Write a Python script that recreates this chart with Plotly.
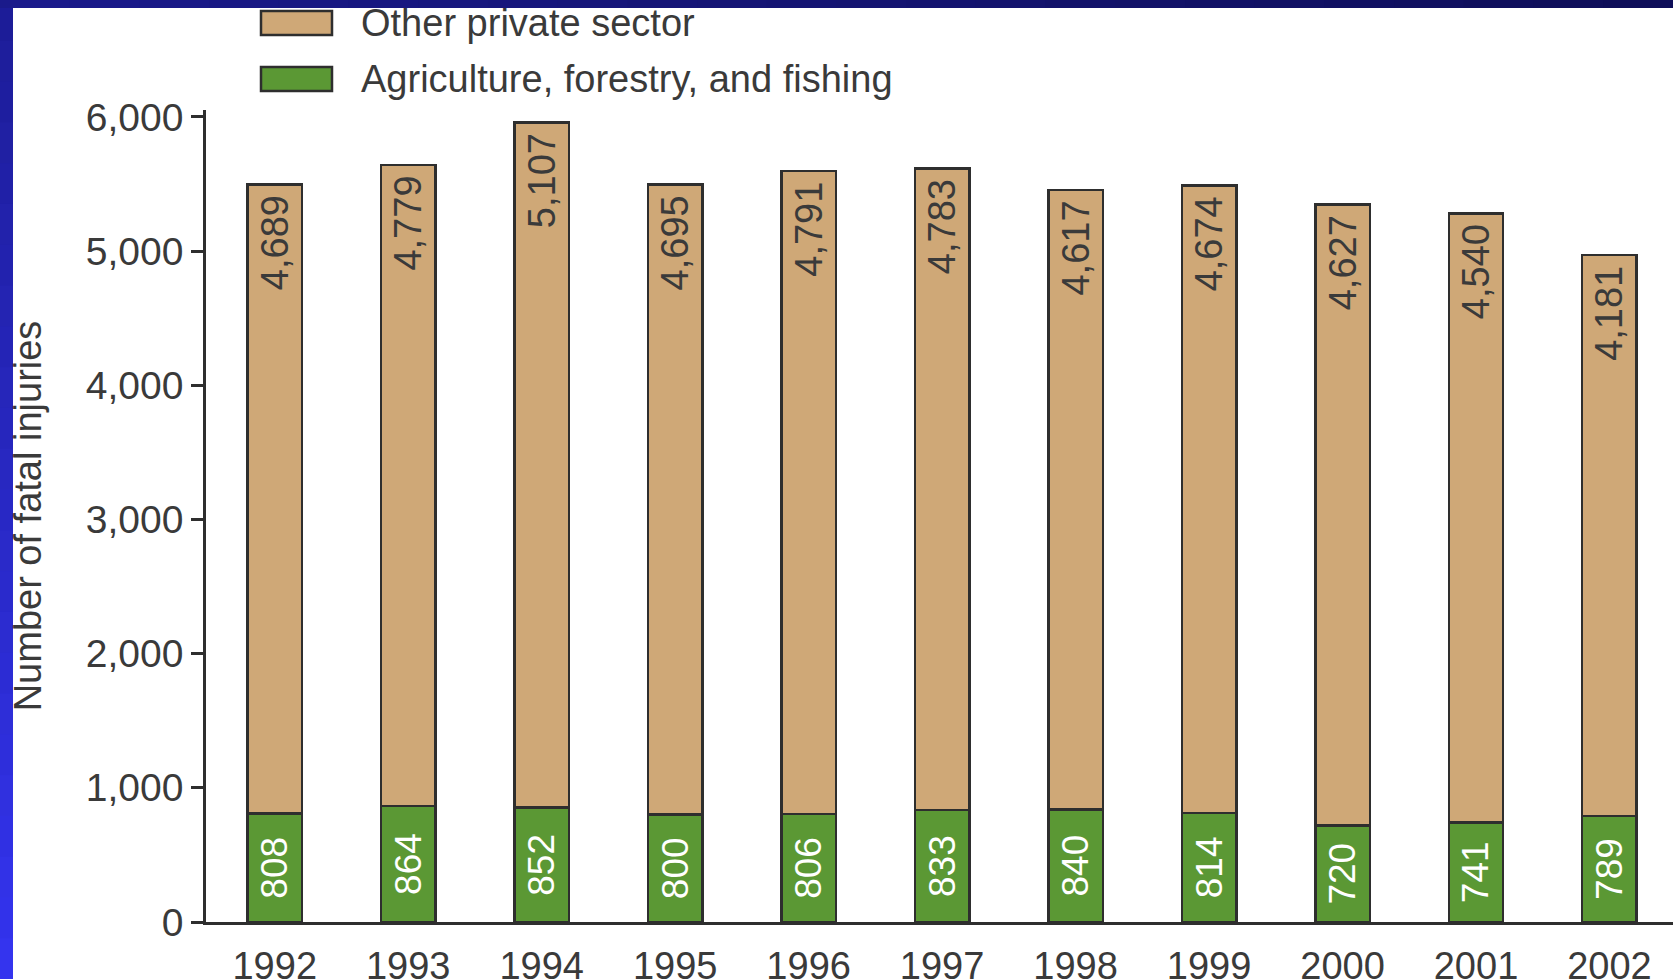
import plotly.graph_objects as go

years = ["1992", "1993", "1994", "1995", "1996", "1997", "1998", "1999", "2000", "2001", "2002"]
agriculture = [808, 864, 852, 800, 806, 833, 840, 814, 720, 741, 789]
other_private = [4689, 4779, 5107, 4695, 4791, 4783, 4617, 4674, 4627, 4540, 4181]
legend_labels = ["Other private sector", "Agriculture, forestry, and fishing"]

TAN = "#cfa877"
GREEN = "#5b9834"
EDGE = "#2e2e2e"
TXT = "#3a3a3a"
FONT = "Liberation Sans, Arial, Helvetica, sans-serif"

W, H = 1673, 979
ML, MR, MT, MB = 206, 0, 110, 57
PW, PH = W - ML - MR, H - MT - MB


def px(x):
    return (x - ML) / PW


def py(y):
    return (H - MB - y) / PH


def mix(c1, c2, t):
    a = [int(c1[i:i + 2], 16) for i in (1, 3, 5)]
    b = [int(c2[i:i + 2], 16) for i in (1, 3, 5)]
    return "#" + "".join(f"{round(a[k] + (b[k] - a[k]) * t):02x}" for k in range(3))


fig = go.Figure()
fig.add_trace(go.Bar(
    x=years, y=agriculture, name=legend_labels[1],
    marker=dict(color=GREEN, line=dict(color=EDGE, width=2.5)),
    texttemplate="%{y:,}", textposition="inside", insidetextanchor="middle",
    textangle=-90, constraintext="none",
    textfont=dict(family=FONT, size=37, color="white"),
    showlegend=False,
))
fig.add_trace(go.Bar(
    x=years, y=other_private, name=legend_labels[0],
    marker=dict(color=TAN, line=dict(color=EDGE, width=2.5)),
    texttemplate="%{y:,}\u2009", textposition="inside", insidetextanchor="end",
    textangle=-90, constraintext="none",
    textfont=dict(family=FONT, size=38, color=TXT),
    showlegend=False,
))

shapes = []
# blue frame with gradients (left strip: dark at top -> bright at bottom; top band: dark to darker)
N = 24
for i in range(N):
    y0p = H * i / N
    y1p = H * (i + 1) / N
    shapes.append(dict(type="rect", xref="paper", yref="paper",
                       x0=px(0), x1=px(13), y0=py(y1p + 1), y1=py(y0p),
                       fillcolor=mix("#1c1c96", "#3434f0", (i + 0.5) / N),
                       line=dict(width=0), layer="above"))
for i in range(N):
    x0p = W * i / N
    x1p = W * (i + 1) / N
    shapes.append(dict(type="rect", xref="paper", yref="paper",
                       x0=px(x0p), x1=px(x1p + 1), y0=py(8), y1=py(0),
                       fillcolor=mix("#1a1a8c", "#0e0e58", (i + 0.5) / N),
                       line=dict(width=0), layer="above"))

annotations = []
legend_colors = [TAN, GREEN]
legend_y = [23, 79]
for lab, col, yc in zip(legend_labels, legend_colors, legend_y):
    shapes.append(dict(type="rect", xref="paper", yref="paper",
                       x0=px(261), x1=px(332), y0=py(yc + 12), y1=py(yc - 12),
                       fillcolor=col, line=dict(color=EDGE, width=2.5)))
    annotations.append(dict(xref="paper", yref="paper", x=px(359), y=py(yc),
                            text=lab, showarrow=False, xanchor="left", yanchor="middle",
                            font=dict(family=FONT, size=38, color=TXT)))

fig.update_layout(
    width=W, height=H, autosize=False,
    margin=dict(l=ML, r=MR, t=MT, b=MB),
    paper_bgcolor="white", plot_bgcolor="white",
    barmode="stack", bargap=0.592,
    shapes=shapes, annotations=annotations,
    showlegend=False,
    xaxis=dict(
        type="category", range=[-0.515, 10.476], automargin=False,
        showline=True, linecolor=EDGE, linewidth=2.5,
        ticks="", showgrid=False, zeroline=False,
        tickfont=dict(family=FONT, size=38, color=TXT),
        ticklabelstandoff=9,
    ),
    yaxis=dict(
        range=[0, 6052], tickvals=[0, 1000, 2000, 3000, 4000, 5000, 6000], automargin=False,
        tickformat=",", showline=True, linecolor=EDGE, linewidth=2.5,
        ticks="outside", ticklen=12, tickwidth=2.5, tickcolor=EDGE,
        showgrid=False, zeroline=False,
        tickfont=dict(family=FONT, size=39, color=TXT),
        title=dict(text="Number of fatal injuries", standoff=33,
                   font=dict(family=FONT, size=38, color=TXT)),
    ),
)

fig.write_html("out.html", config={"responsive": False, "displayModeBar": False},
               post_script="document.body.style.margin='0';")
